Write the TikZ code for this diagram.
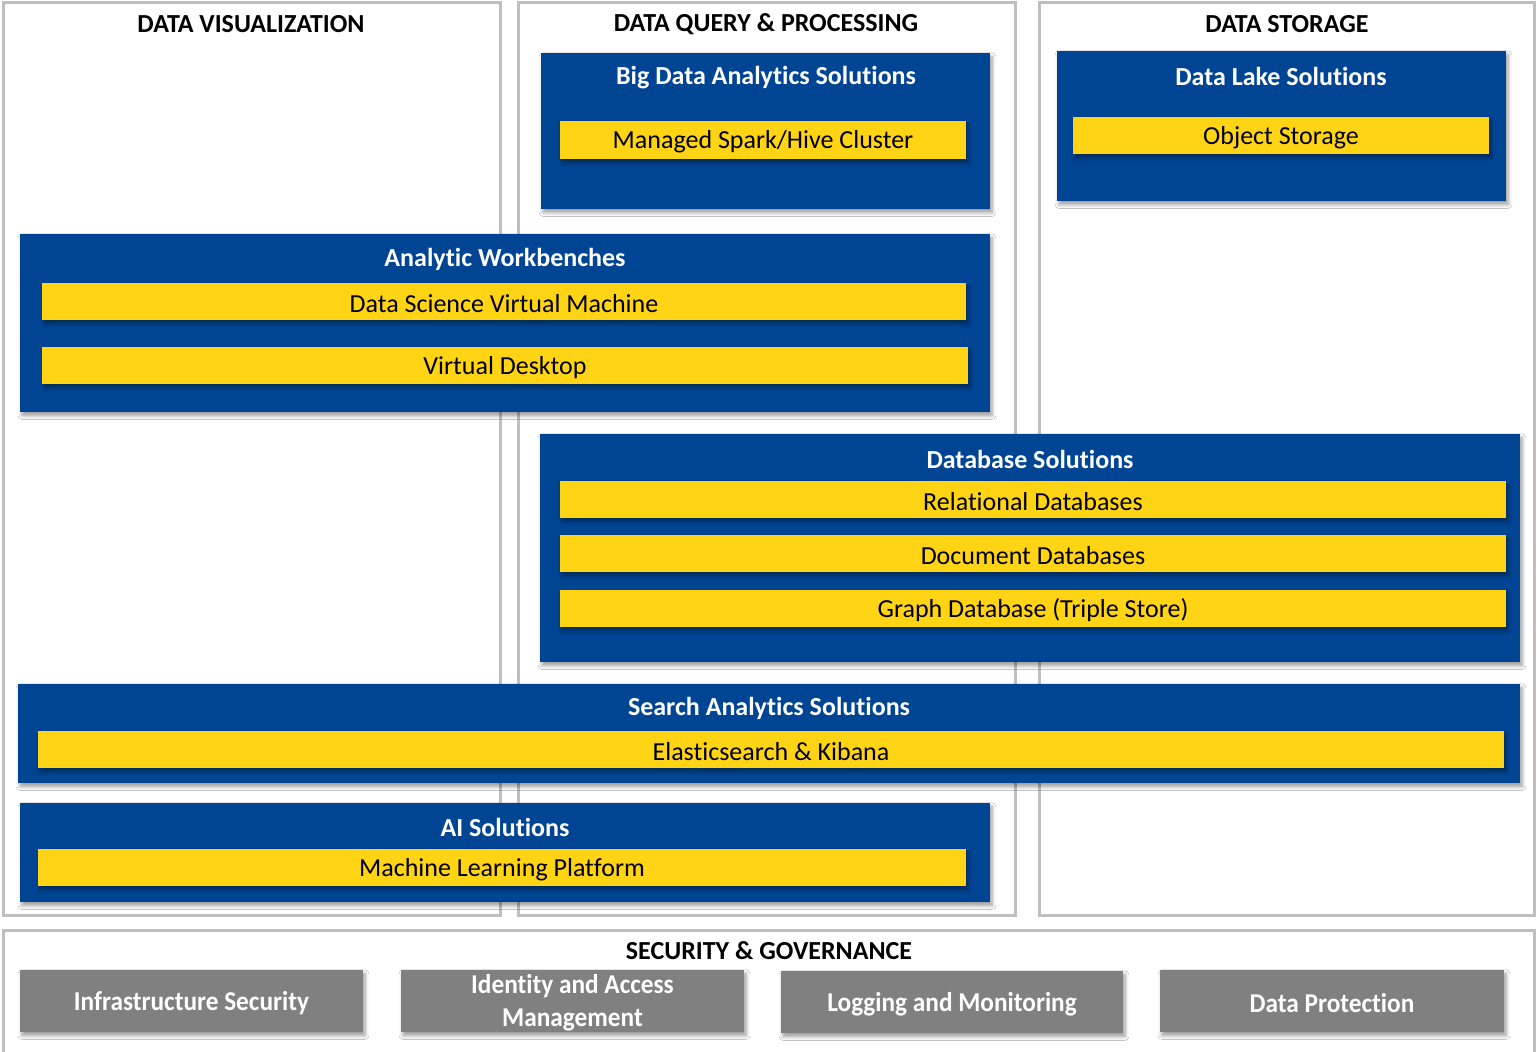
\documentclass[tikz,border=0pt]{standalone}
\usepackage{fontspec}
\setmainfont{Carlito}[Ligatures=CommonOff]
\newfontfamily\condfont[FakeStretch=0.93,Ligatures=CommonOff]{Carlito}
\usetikzlibrary{fit,shadows.blur}
\definecolor{dblue}{RGB}{0,68,148}
\definecolor{dyellow}{RGB}{255,212,20}
\definecolor{ggray}{RGB}{128,128,128}
\definecolor{pgray}{RGB}{191,191,191}
\tikzset{
  panel/.style={draw=pgray, line width=1.5pt, inner sep=0pt},
  myshadow/.style={blur shadow={shadow xshift=1.0pt, shadow yshift=-1.8pt, shadow blur steps=6, shadow opacity=40}},
  bluebox/.style={fill=dblue, inner sep=0pt, myshadow},
  ybar/.style={fill=dyellow, inner sep=0pt, myshadow},
  ytext/.style={text=black, inner sep=0pt, yshift=-1pt, font=\fontsize{13}{15}\selectfont},
  btitle/.style={text=white, inner sep=0pt, yshift=-1pt, font=\bfseries\fontsize{13}{15}\selectfont},
  heading/.style={text=black, inner sep=0pt, font=\bfseries\fontsize{13}{15}\selectfont},
  gbox/.style={fill=ggray, inner sep=0pt, myshadow},
  gtext/.style={inner sep=0pt, text=white, align=center, yshift=-1pt, font=\condfont\bfseries\fontsize{13.6}{16.5}\selectfont}
}
\begin{document}
\begin{tikzpicture}[x=0.5pt,y=-0.5pt]
\clip (0,0) rectangle (1537,1052);
\fill[white] (0,0) rectangle (1537,1052);
% panels
\node[panel, fit={(3,3)(500,915)}] (pvis) {};
\node[panel, fit={(518,3)(1015,915)}] (pquery) {};
\node[panel, fit={(1039,3)(1534,915)}] (pstore) {};
\node[panel, fit={(3,930)(1534,1070)}] (psec) {};
% headings
\node[heading] (hvis) at (251,24) {DATA VISUALIZATION};
\node[heading] (hquery) at (766,24) {DATA QUERY \& PROCESSING};
\node[heading] (hstore) at (1287,24) {DATA STORAGE};
\node[heading] (hsec) at (769,951) {SECURITY \& GOVERNANCE};
% Big data
\node[bluebox, fit={(541,53)(990,209)}] (bigdata) {};
\node[btitle] (tbigdata) at (766,76) {Big Data Analytics Solutions};
\node[ybar, fit={(560,121)(966,159)}] (spark) {};
\node[ytext] (tspark) at (spark.center) {Managed Spark/Hive Cluster};
% Data lake
\node[bluebox, fit={(1057,51)(1506,201)}] (lake) {};
\node[btitle] (tlake) at (1281,74) {Data Lake Solutions};
\node[ybar, fit={(1073,117)(1489,154)}] (objstore) {};
\node[ytext] (tobjstore) at (objstore.center) {Object Storage};
% Analytic workbenches
\node[bluebox, fit={(20,234)(990,412)}] (work) {};
\node[btitle] (twork) at (505,257) {Analytic Workbenches};
\node[ybar, fit={(42,283)(966,320)}] (dsvm) {};
\node[ytext] (tdsvm) at (dsvm.center) {Data Science Virtual Machine};
\node[ybar, fit={(42,347)(968,384)}] (vdesk) {};
\node[ytext] (tvdesk) at (vdesk.center) {Virtual Desktop};
% Database solutions
\node[bluebox, fit={(540,434)(1520,662)}] (db) {};
\node[btitle] (tdb) at (1030,457) {Database Solutions};
\node[ybar, fit={(560,481)(1506,518)}] (reldb) {};
\node[ytext] (treldb) at (reldb.center) {Relational Databases};
\node[ybar, fit={(560,535)(1506,572)}] (docdb) {};
\node[ytext] (tdocdb) at (docdb.center) {Document Databases};
\node[ybar, fit={(560,590)(1506,627)}] (graphdb) {};
\node[ytext] (tgraphdb) at (graphdb.center) {Graph Database (Triple Store)};
% Search analytics
\node[bluebox, fit={(18,684)(1520,783)}] (search) {};
\node[btitle] (tsearch) at (769,706) {Search Analytics Solutions};
\node[ybar, fit={(38,731)(1504,768)}] (elk) {};
\node[ytext] (telk) at (elk.center) {Elasticsearch \& Kibana};
% AI
\node[bluebox, fit={(20,803)(990,902)}] (ai) {};
\node[btitle] (tai) at (505,825) {AI Solutions};
\node[ybar, fit={(38,849)(966,886)}] (mlp) {};
\node[ytext] (tmlp) at (mlp.center) {Machine Learning Platform};
% Security boxes
\node[gbox, fit={(20,970)(363,1032)}] (infra) {};
\node[gtext] (tinfra) at (infra.center) {Infrastructure Security};
\node[gbox, fit={(401,970)(744,1032)}] (iam) {};
\node[gtext] (tiam) at (iam.center) {Identity and Access\\Management};
\node[gbox, fit={(781,971)(1123,1033)}] (logmon) {};
\node[gtext] (tlogmon) at (logmon.center) {Logging and Monitoring};
\node[gbox, fit={(1160,970)(1504,1032)}] (dprot) {};
\node[gtext] (tdprot) at (dprot.center) {Data Protection};
\end{tikzpicture}
\end{document}
